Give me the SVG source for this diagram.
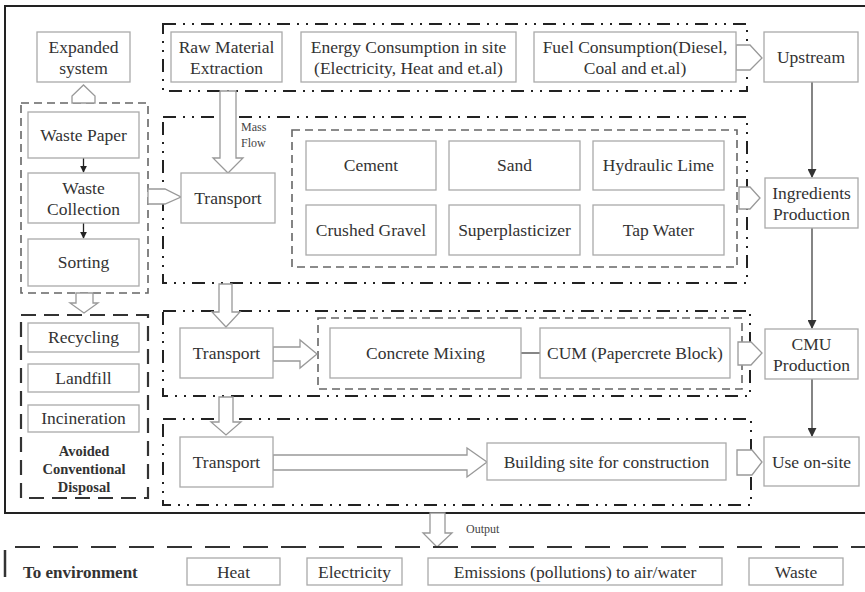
<svg xmlns="http://www.w3.org/2000/svg" width="865" height="592" viewBox="0 0 865 592" font-family="'Liberation Serif', 'Times New Roman', Times, serif">
<defs>
<marker id="ah" viewBox="0 0 10 10" refX="9" refY="5" markerWidth="7" markerHeight="7" markerUnits="userSpaceOnUse" orient="auto"><path d="M0,0 L10,5 L0,10 z" fill="#222"/></marker>
<marker id="ahg" viewBox="0 0 10 10" refX="9" refY="5" markerWidth="9" markerHeight="9" markerUnits="userSpaceOnUse" orient="auto"><path d="M0,0 L10,5 L0,10 z" fill="#333"/></marker>
</defs>
<style>
text{font-family:'Liberation Serif','Times New Roman',Times,serif}
.box{fill:#fff;stroke:#aaa;stroke-width:1.3}
.t{font-size:17.5px;fill:#333;text-anchor:middle}
.tb{font-size:14.5px;font-weight:bold;fill:#333;text-anchor:middle}
.ts{font-size:12px;fill:#444}
.dd{fill:none;stroke:#222;stroke-width:2;stroke-dasharray:13 7 2 7 2 7}
.dsh{fill:none;stroke:#666;stroke-width:1.6;stroke-dasharray:8 5}
.dshb{fill:none;stroke:#333;stroke-width:2.2;stroke-dasharray:15 8}
.hol{fill:#fff;stroke:#999;stroke-width:1.3}
.ln{stroke:#222;stroke-width:1.3;fill:none}
.lng{stroke:#666;stroke-width:1.6;fill:none}
</style>
<rect width="865" height="592" fill="#fff"/>
<g id="outer">
<path d="M865,6 L5,6 L5,513 L865,513" fill="none" stroke="#222" stroke-width="2"/>
</g>
<g id="containers">
<rect class="dd" x="163" y="24" width="584" height="67"/>
<rect class="dd" x="163" y="117" width="584" height="166"/>
<rect class="dsh" x="292" y="130" width="445" height="137"/>
<rect class="dd" x="163" y="311" width="587" height="85"/>
<rect class="dsh" x="318" y="318" width="424" height="71"/>
<rect class="dd" x="163" y="419" width="588" height="86"/>
<rect class="dsh" x="21" y="103" width="127" height="190"/>
<rect class="dshb" x="21" y="315" width="127" height="183"/>
</g>
<g id="connectors">
<polygon class="hol" points="72,103 72,96 83.5,85 95,96 95,103"/>
<polygon class="hol" points="148,189 165,189 181,197 165,204 148,204"/>
<polygon class="hol" points="220,91 236,91 236,158 243,158 228,173 213,158 220,158"/>
<polygon class="hol" points="736,45 750,45 762,58 750,70 736,70"/>
<polygon class="hol" points="739,187 750,187 760,198 750,209 739,209"/>
<polygon class="hol" points="219,284 232,284 232,312 240,312 226,327 212,312 219,312"/>
<polygon class="hol" points="273,347 300,347 300,340 317,354 300,368 300,361 273,361"/>
<polygon class="hol" points="738,342 751,342 762,353 751,365 738,365"/>
<polygon class="hol" points="219,397 233,397 233,422 241,422 226,435 211,422 219,422"/>
<polygon class="hol" points="273,455 467,455 467,448 487,462 467,477 467,470 273,470"/>
<polygon class="hol" points="737,450 752,450 762,462 752,475 737,475"/>
<polygon class="hol" points="76,293 93,293 93,303 98,303 84,313 70,303 76,303"/>
<polygon class="hol" points="430,513 445,513 445,533 452,533 437,547 423,533 430,533"/>
<line class="ln" x1="83.5" y1="158" x2="83.5" y2="172" marker-end="url(#ah)"/>
<line class="ln" x1="83.5" y1="223" x2="83.5" y2="238" marker-end="url(#ah)"/>
<line class="lng" x1="812" y1="82" x2="812" y2="177" marker-end="url(#ahg)"/>
<line class="lng" x1="812" y1="228" x2="812" y2="328" marker-end="url(#ahg)"/>
<line class="lng" x1="812" y1="379" x2="812" y2="436" marker-end="url(#ahg)"/>
<line x1="521" y1="353" x2="540" y2="353" stroke="#444" stroke-width="1.3"/>
<text class="ts" x="241" y="131">Mass</text>
<text class="ts" x="241" y="147">Flow</text>
<text class="ts" x="466" y="533">Output</text>
</g>
<g id="expanded"><rect class="box" x="37" y="32" width="93" height="50"/><text class="t" x="83.5" y="53">Expanded</text><text class="t" x="83.5" y="74">system</text></g>
<g id="raw"><rect class="box" x="171" y="32" width="111" height="50"/><text class="t" x="226.5" y="53">Raw Material</text><text class="t" x="226.5" y="74">Extraction</text></g>
<g id="energy"><rect class="box" x="301" y="32" width="215" height="50"/><text class="t" x="408.5" y="53">Energy Consumption in site</text><text class="t" x="408.5" y="74">(Electricity, Heat and et.al)</text></g>
<g id="fuel"><rect class="box" x="534" y="32" width="202" height="50"/><text class="t" x="635" y="53">Fuel Consumption(Diesel,</text><text class="t" x="635" y="74">Coal and et.al)</text></g>
<g id="upstream"><rect class="box" x="764" y="32" width="94" height="50"/><text class="t" x="811" y="63">Upstream</text></g>
<g id="wastepaper"><rect class="box" x="28" y="112" width="111" height="46"/><text class="t" x="83.5" y="141">Waste Paper</text></g>
<g id="collection"><rect class="box" x="28" y="173" width="111" height="50"/><text class="t" x="83.5" y="194">Waste</text><text class="t" x="83.5" y="215">Collection</text></g>
<g id="sorting"><rect class="box" x="28" y="239" width="111" height="47"/><text class="t" x="83.5" y="268">Sorting</text></g>
<g id="transport1"><rect class="box" x="181" y="173" width="94" height="50"/><text class="t" x="228" y="204">Transport</text></g>
<g id="cement"><rect class="box" x="306" y="141" width="130" height="49"/><text class="t" x="371" y="171">Cement</text></g>
<g id="sand"><rect class="box" x="449" y="141" width="131" height="49"/><text class="t" x="514.5" y="171">Sand</text></g>
<g id="lime"><rect class="box" x="593" y="141" width="131" height="49"/><text class="t" x="658.5" y="171">Hydraulic Lime</text></g>
<g id="gravel"><rect class="box" x="306" y="205" width="130" height="50"/><text class="t" x="371" y="236">Crushed Gravel</text></g>
<g id="superplasticizer"><rect class="box" x="449" y="205" width="131" height="50"/><text class="t" x="514.5" y="236">Superplasticizer</text></g>
<g id="tapwater"><rect class="box" x="593" y="205" width="131" height="50"/><text class="t" x="658.5" y="236">Tap Water</text></g>
<g id="ingredients"><rect class="box" x="765" y="178" width="93" height="50"/><text class="t" x="811.5" y="199">Ingredients</text><text class="t" x="811.5" y="220">Production</text></g>
<g id="recycling"><rect class="box" x="28" y="323" width="111" height="29"/><text class="t" x="83.5" y="343">Recycling</text></g>
<g id="landfill"><rect class="box" x="28" y="364" width="111" height="28"/><text class="t" x="83.5" y="384">Landfill</text></g>
<g id="incineration"><rect class="box" x="28" y="405" width="111" height="27"/><text class="t" x="83.5" y="424">Incineration</text></g>
<g id="avoided"><text class="tb" x="84" y="456">Avoided</text><text class="tb" x="84" y="474">Conventional</text><text class="tb" x="84" y="492">Disposal</text></g>
<g id="transport2"><rect class="box" x="180" y="328" width="93" height="50"/><text class="t" x="226.5" y="359">Transport</text></g>
<g id="mixing"><rect class="box" x="330" y="328" width="191" height="50"/><text class="t" x="425.5" y="359">Concrete Mixing</text></g>
<g id="cum"><rect class="box" x="540" y="328" width="190" height="50"/><text class="t" x="635" y="359">CUM (Papercrete Block)</text></g>
<g id="cmu"><rect class="box" x="765" y="329" width="93" height="50"/><text class="t" x="811.5" y="350">CMU</text><text class="t" x="811.5" y="371">Production</text></g>
<g id="transport3"><rect class="box" x="180" y="437" width="93" height="50"/><text class="t" x="226.5" y="468">Transport</text></g>
<g id="building"><rect class="box" x="487" y="443" width="239" height="37"/><text class="t" x="606.5" y="468">Building site for construction</text></g>
<g id="useonsite"><rect class="box" x="764" y="437" width="95" height="49"/><text class="t" x="811.5" y="468">Use on-site</text></g>
<g id="environment">
<line x1="15" y1="547" x2="865" y2="547" stroke="#333" stroke-width="2.2" stroke-dasharray="25 13"/>
<line x1="5" y1="550" x2="5" y2="577" stroke="#333" stroke-width="2.5"/>
<text class="tb" x="23" y="578" style="text-anchor:start;font-size:17px">To environment</text>
</g>
<g id="heat"><rect class="box" x="187" y="558" width="93" height="27"/><text class="t" x="233.5" y="578">Heat</text></g>
<g id="electricity"><rect class="box" x="307" y="558" width="95" height="27"/><text class="t" x="354.5" y="578">Electricity</text></g>
<g id="emissions"><rect class="box" x="428" y="558" width="294" height="27"/><text class="t" x="575" y="578">Emissions (pollutions) to air/water</text></g>
<g id="waste"><rect class="box" x="749" y="558" width="94" height="27"/><text class="t" x="796" y="578">Waste</text></g>
</svg>
